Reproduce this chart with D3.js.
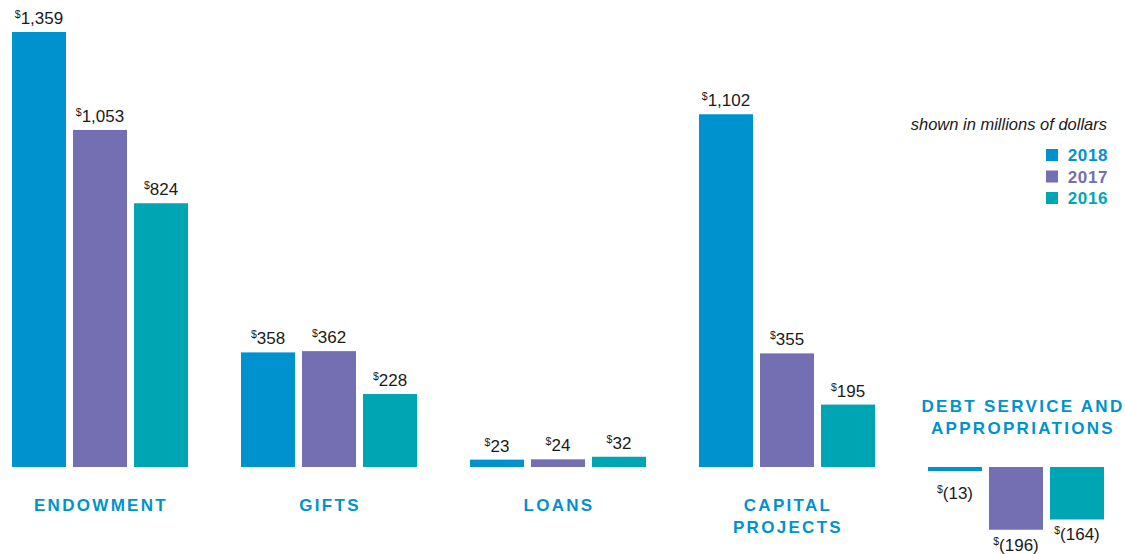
<!DOCTYPE html>
<html>
<head>
<meta charset="utf-8">
<script src="https://cdn.jsdelivr.net/npm/d3@7"></script>
<style>
  body { margin: 0; background: #fff; }
  svg { display: block; font-family: "Liberation Sans", Arial, Helvetica, sans-serif; }
</style>
</head>
<body>
<svg width="1125" height="554"></svg>
<script>
// data, in millions of dollars
let categories = ["ENDOWMENT", "GIFTS", "LOANS", "CAPITAL PROJECTS", "DEBT SERVICE AND APPROPRIATIONS"];
let category_lines = [["ENDOWMENT"], ["GIFTS"], ["LOANS"], ["CAPITAL", "PROJECTS"], ["DEBT SERVICE AND", "APPROPRIATIONS"]];
let years = ["2018", "2017", "2016"];
let values_2018 = [1359, 358, 23, 1102, -13];
let values_2017 = [1053, 362, 24, 355, -196];
let values_2016 = [824, 228, 32, 195, -164];
let year_colors = ["#0092cf", "#736fb2", "#00a5b4"];
let note = "shown in millions of dollars";

let all_values = [values_2018, values_2017, values_2016];
let bar_data = [];
for (var c = 0; c < categories.length; c++) {
  for (var s = 0; s < years.length; s++) {
    bar_data.push({cat: categories[c], year: years[s], value: all_values[s][c], s: s});
  }
}

var svg = d3.select("svg");

var x0 = d3.scaleBand().domain(categories).range([12, 1104]).paddingInner(0.2314).paddingOuter(0);
var x1 = d3.scaleBand().domain(years).range([0, x0.bandwidth()]).paddingInner(0.1148).paddingOuter(0);
var y = d3.scaleLinear().domain([0, d3.max(bar_data, d => d.value)]).range([467, 32]);
var color = d3.scaleOrdinal().domain(years).range(year_colors);

function fmt(v) {
  let s = d3.format(",")(Math.abs(v));
  return v < 0 ? "(" + s + ")" : s;
}

var g = svg.append("g");

g.selectAll(".bar")
  .data(bar_data)
  .enter().append("rect")
    .attr("class", "bar")
    .attr("x", d => x0(d.cat) + x1(d.year))
    .attr("y", d => y(Math.max(0, d.value)))
    .attr("width", x1.bandwidth())
    .attr("height", d => Math.abs(y(d.value) - y(0)))
    .attr("fill", d => color(d.year));

// value labels, "$" raised; negatives sit under the bar
var labels = g.selectAll(".val")
  .data(bar_data)
  .enter().append("text")
    .attr("class", "val")
    .attr("text-anchor", "middle")
    .attr("x", d => x0(d.cat) + x1(d.year) + x1.bandwidth() / 2)
    .attr("y", d => d.value >= 0 ? y(d.value) - 8 : Math.max(y(d.value) + 21, y(0) + 32))
    .attr("fill", "#1a1a1a");
labels.append("tspan").attr("font-size", 10.5).attr("dy", -6).text("$");
labels.append("tspan").attr("font-size", 17).attr("dy", 6).text(d => fmt(d.value));

// category labels
var cats = g.selectAll(".cat")
  .data(categories)
  .enter().append("text")
    .attr("class", "cat")
    .attr("text-anchor", "middle")
    .attr("x", (d, i) => x0(d) + x0.bandwidth() / 2 + (i == categories.length - 1 ? 7 : 1))
    .attr("y", (d, i) => i == categories.length - 1 ? 412 : 511)
    .attr("font-size", 17)
    .attr("font-weight", "bold")
    .attr("letter-spacing", 2.3)
    .attr("fill", year_colors[0]);
cats.selectAll("tspan")
  .data((d, i) => category_lines[i])
  .enter().append("tspan")
    .attr("x", function() { return d3.select(this.parentNode).attr("x"); })
    .attr("dy", (d, i) => i == 0 ? 0 : 22)
    .text(d => d);

// legend
svg.append("text")
  .attr("x", 1107)
  .attr("y", 130)
  .attr("text-anchor", "end")
  .attr("font-size", 16.5)
  .attr("font-style", "italic")
  .attr("fill", "#1a1a1a")
  .text(note);

var legend = svg.selectAll(".legend")
  .data(years)
  .enter().append("g")
    .attr("class", "legend")
    .attr("transform", (d, i) => "translate(0," + (161 + i * 21.5) + ")");
legend.append("rect")
  .attr("x", 1046)
  .attr("y", -12)
  .attr("width", 12)
  .attr("height", 12)
  .attr("fill", d => color(d));
legend.append("text")
  .attr("x", 1108)
  .attr("text-anchor", "end")
  .attr("font-size", 17)
  .attr("font-weight", "bold")
  .attr("letter-spacing", 0.6)
  .attr("fill", d => color(d))
  .text(d => d);
</script>
</body>
</html>
